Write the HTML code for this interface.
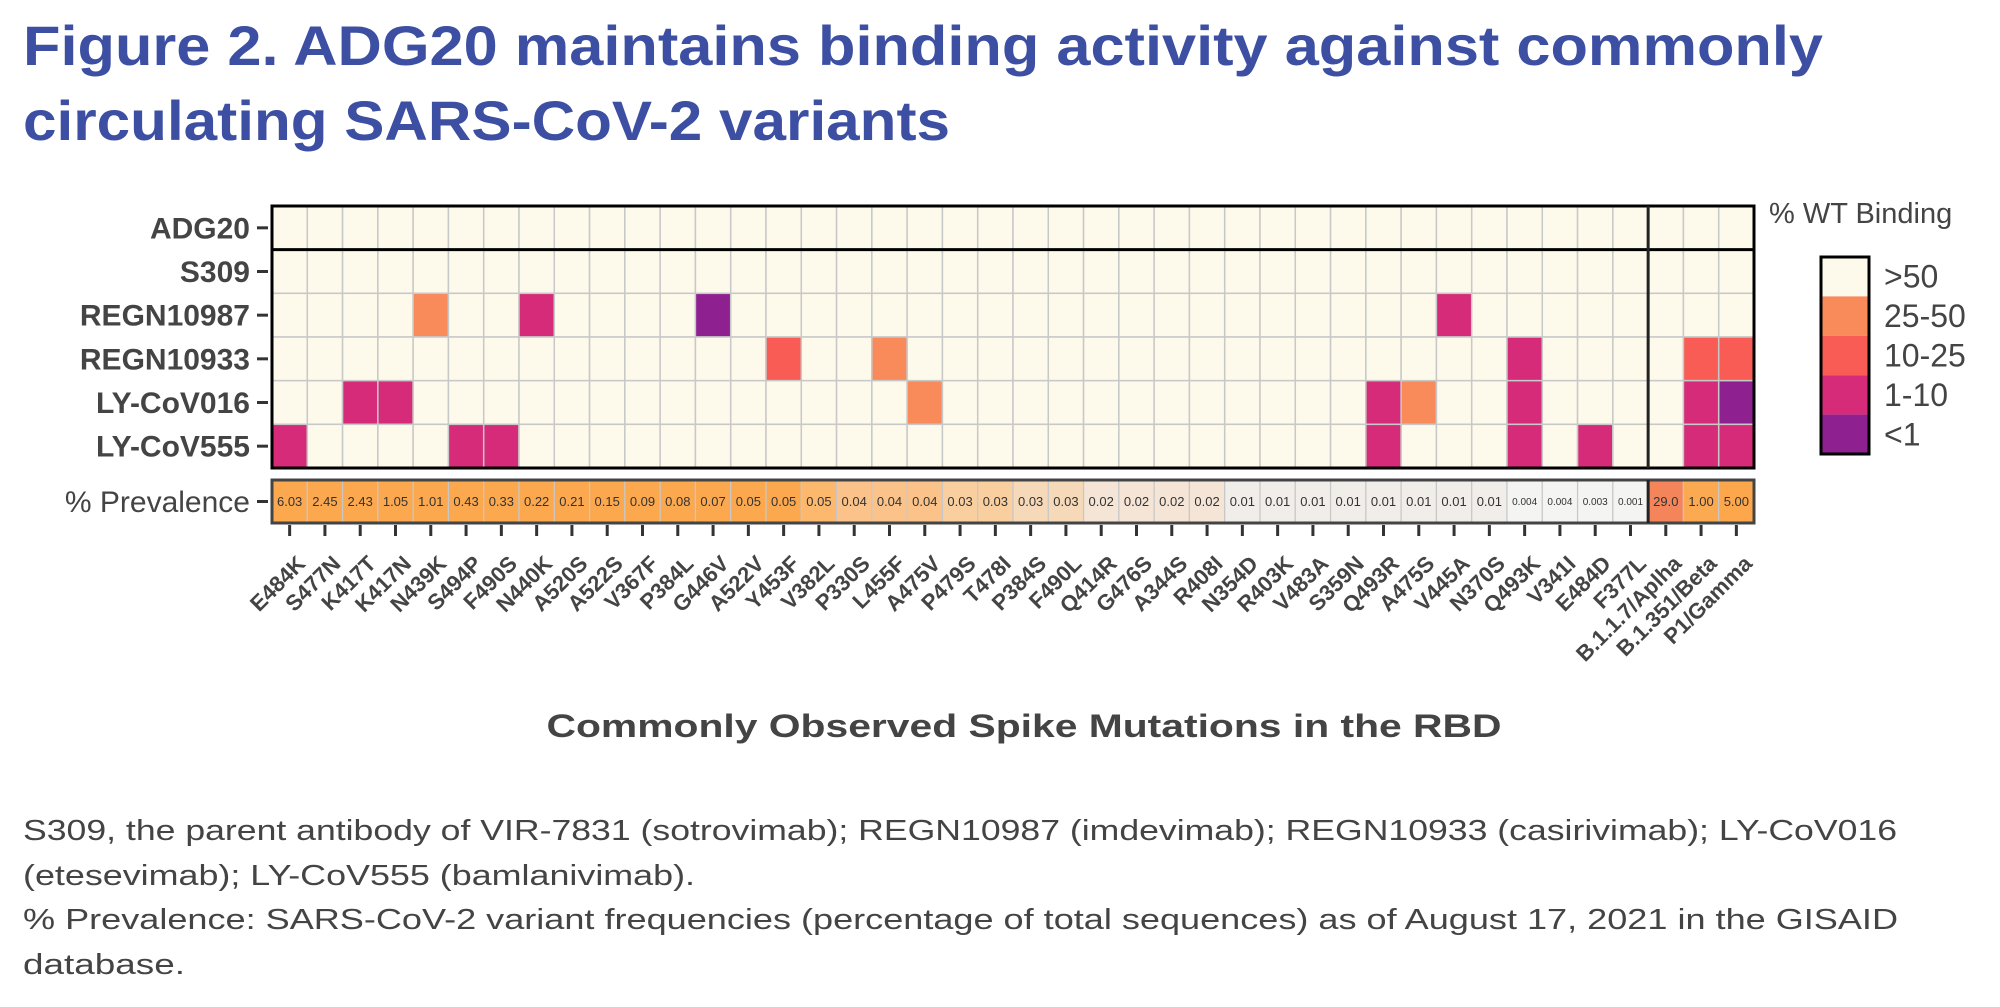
<!DOCTYPE html>
<html><head><meta charset="utf-8"><style>
html,body{margin:0;padding:0;background:#fff;}
svg{display:block;}
</style></head><body>
<svg id="s" width="2000" height="1007" viewBox="0 0 2000 1007" xmlns="http://www.w3.org/2000/svg" font-family="Liberation Sans, sans-serif">
<text x="23" y="65" font-size="56" font-weight="bold" fill="#3c4fa3" textLength="1800" lengthAdjust="spacingAndGlyphs">Figure 2. ADG20 maintains binding activity against commonly</text>
<text x="23" y="140" font-size="56" font-weight="bold" fill="#3c4fa3" textLength="927" lengthAdjust="spacingAndGlyphs">circulating SARS-CoV-2 variants</text>
<g id="g"></g>
<text x="1024" y="737" font-size="32" font-weight="bold" fill="#444" text-anchor="middle" textLength="955" lengthAdjust="spacingAndGlyphs">Commonly Observed Spike Mutations in the RBD</text>
<g font-size="29" fill="#444">
<text x="23" y="840" textLength="1874" lengthAdjust="spacingAndGlyphs">S309, the parent antibody of VIR-7831 (sotrovimab); REGN10987 (imdevimab); REGN10933 (casirivimab); LY-CoV016</text>
<text x="23" y="885" textLength="672" lengthAdjust="spacingAndGlyphs">(etesevimab); LY-CoV555 (bamlanivimab).</text>
<text x="23" y="929" textLength="1875" lengthAdjust="spacingAndGlyphs">% Prevalence: SARS-CoV-2 variant frequencies (percentage of total sequences) as of August 17, 2021 in the GISAID</text>
<text x="23" y="974" textLength="162" lengthAdjust="spacingAndGlyphs">database.</text>
</g>
</svg>
<script>
var NS="http://www.w3.org/2000/svg",g=document.getElementById("g");
function el(t,a,txt){var e=document.createElementNS(NS,t);for(var k in a)e.setAttribute(k,a[k]);if(txt!=null)e.textContent=txt;g.appendChild(e);return e;}
var cols=["E484K","S477N","K417T","K417N","N439K","S494P","F490S","N440K","A520S","A522S","V367F","P384L","G446V","A522V","Y453F","V382L","P330S","L455F","A475V","P479S","T478I","P384S","F490L","Q414R","G476S","A344S","R408I","N354D","R403K","V483A","S359N","Q493R","A475S","V445A","N370S","Q493K","V341I","E484D","F377L","B.1.1.7/Aplha","B.1.351/Beta","P1/Gamma"];
var prev=["6.03","2.45","2.43","1.05","1.01","0.43","0.33","0.22","0.21","0.15","0.09","0.08","0.07","0.05","0.05","0.05","0.04","0.04","0.04","0.03","0.03","0.03","0.03","0.02","0.02","0.02","0.02","0.01","0.01","0.01","0.01","0.01","0.01","0.01","0.01","0.004","0.004","0.003","0.001","29.0","1.00","5.00"];
var rows=["ADG20","S309","REGN10987","REGN10933","LY-CoV016","LY-CoV555"];
var C={o:"#f98a5a",r:"#f95c54",p:"#d62b78",v:"#8e2090"};
var cells={2:{4:"o",7:"p",12:"v",33:"p"},3:{14:"r",17:"o",35:"p",40:"r",41:"r"},4:{2:"p",3:"p",18:"o",31:"p",32:"o",35:"p",40:"p",41:"v"},5:{0:"p",5:"p",6:"p",31:"p",35:"p",37:"p",40:"p",41:"p"}};
var X0=272,W=(1754-272)/42,Y0=206,H=(468-206)/6;
for(var r=0;r<6;r++)for(var c=0;c<42;c++){var k=(cells[r]||{})[c];
 el("rect",{x:X0+c*W,y:Y0+r*H,width:W,height:H,fill:k?C[k]:"#fdfaeb",stroke:"#c8c8c8","stroke-width":1.5});}
function pc(i){if(i<15)return"#fca84e";if(i==15)return"#fcb86c";if(i<19)return"#fbc38a";if(i<21)return"#f9cf9f";if(i<23)return"#f6d9b8";if(i<27)return"#f4e5d6";if(i<35)return"#f1ede9";if(i<39)return"#f4f4f3";return["#f4855a","#fcaa52","#fca74c"][i-39];}
var PY=480,PH=43;
for(var c=0;c<42;c++){el("rect",{x:X0+c*W,y:PY,width:W,height:PH,fill:pc(c),stroke:"#c8c8c8","stroke-width":1.2});
 var s=prev[c].length>4?10:13;
 el("text",{x:X0+c*W+W/2,y:PY+PH/2+s*0.36,"font-size":s,"text-anchor":"middle",fill:"#333"},prev[c]);
 var cx=X0+c*W+W/2;
 el("line",{x1:cx,y1:525,x2:cx,y2:536,stroke:"#333","stroke-width":3});
 el("text",{transform:"translate("+(cx+17)+",565) rotate(-45)","font-size":22,"font-weight":"bold","text-anchor":"end",fill:"#444"},cols[c]);}
el("rect",{x:X0,y:PY,width:1754-X0,height:PH,fill:"none",stroke:"#444","stroke-width":3});
el("rect",{x:X0,y:Y0,width:1754-X0,height:468-Y0,fill:"none",stroke:"#000","stroke-width":3});
el("line",{x1:X0,y1:Y0+H,x2:1754,y2:Y0+H,stroke:"#000","stroke-width":3});
var sx=X0+39*W;
el("line",{x1:sx,y1:Y0,x2:sx,y2:468,stroke:"#222","stroke-width":3});
el("line",{x1:sx,y1:PY,x2:sx,y2:PY+PH,stroke:"#222","stroke-width":3});
for(var r=0;r<6;r++){var cy=Y0+r*H+H/2;
 el("line",{x1:257,y1:cy,x2:268,y2:cy,stroke:"#333","stroke-width":3});
 el("text",{x:250,y:cy+10.5,"font-size":30,"font-weight":"bold","text-anchor":"end",fill:"#444"},rows[r]);}
el("line",{x1:257,y1:PY+PH/2,x2:268,y2:PY+PH/2,stroke:"#333","stroke-width":3});
el("text",{x:250,y:PY+PH/2+10.5,"font-size":30,"text-anchor":"end",fill:"#444"},"% Prevalence");
el("text",{x:1769,y:223,"font-size":29,fill:"#444"},"% WT Binding");
var lc=["#fdfaeb","#f98a5a","#f95c54","#d62b78","#8e2090"],ll=[">50","25-50","10-25","1-10","<1"];
var LY=257,LH=(454-257)/5;
for(var i=0;i<5;i++){el("rect",{x:1821,y:LY+i*LH,width:48,height:LH,fill:lc[i]});
 el("text",{x:1884,y:LY+i*LH+LH/2+11,"font-size":32,fill:"#444"},ll[i]);}
el("rect",{x:1821,y:LY,width:48,height:454-LY,fill:"none",stroke:"#000","stroke-width":3});
</script>
</body></html>
